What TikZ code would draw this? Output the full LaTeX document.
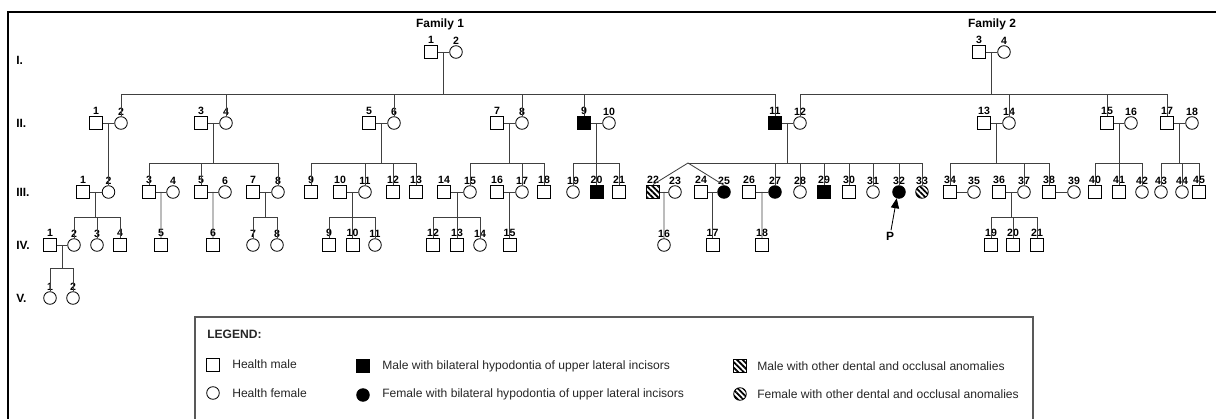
\documentclass[tikz,border=0pt]{standalone}
\usepackage{fontspec}
\setmainfont{Liberation Sans}
\usetikzlibrary{calc, arrows, patterns.meta}
\tikzset{>=triangle 45}
\tikzset{
  person/.style={draw=black, line width=0.6pt, inner sep=0pt, minimum size=3.25mm},
  male/.style={person, rectangle},
  female/.style={person, circle, minimum size=3.15mm},
  aff/.style={fill=black},
  other/.style={pattern={Lines[angle=-45, distance=2.8pt, line width=1.3pt]}},
  num/.style={font=\fontsize{7.5}{7.5}\selectfont\bfseries, inner sep=0.6pt},
  gen/.style={font=\fontsize{8.5}{9}\selectfont\bfseries, anchor=west, inner sep=0pt},
  line/.style={draw=black!75, line width=0.6pt},
  legtext/.style={font=\fontsize{8.6}{9}\selectfont, text=black!85, anchor=west, inner sep=0pt},
}
% parents, y of sibship line, first child, last child, children
\newcommand{\sibship}[5]{%
  \draw[line] (#1) -- (#1 |- 0,#2);
  \draw[line] (#3 |- 0,#2) -- (#4 |- 0,#2);
  \foreach \k in {#5} \draw[line] (\k.north) -- (\k.north |- 0,#2);
}

\begin{document}
\begin{tikzpicture}[x=0.025cm, y=-0.025cm]
  \useasboundingbox (0,0) rectangle (1216,419);
  \draw[line width=1.4pt] (8,419) -- (8,12) -- (1216,12);

  \node[font=\fontsize{8.5}{9}\selectfont\bfseries] (fam1) at (440,24) {Family 1};
  \node[font=\fontsize{8.5}{9}\selectfont\bfseries] (fam2) at (992,24) {Family 2};

  \node[gen] (lI) at (16,60) {I.};
  \node[gen] (lII) at (16,123) {II.};
  \node[gen] (lIII) at (16,192) {III.};
  \node[gen] (lIV) at (16,245) {IV.};
  \node[gen] (lV) at (16,298) {V.};

  % generation I
  \node[male, label={[num]above:1}] (g1-1) at (431,52) {};
  \node[female, label={[num]above:2}] (g1-2) at (456,52) {};
  \node[male, label={[num]above:3}] (g1-3) at (979,52) {};
  \node[female, label={[num]above:4}] (g1-4) at (1004,52) {};

  % generation II
  \foreach \n/\x in {1/96,3/201,5/369,7/497,13/984,15/1107,17/1167}
    \node[male, label={[num]above:\n}] (g2-\n) at (\x,123) {};
  \foreach \n/\x in {2/121,4/226,6/394,8/522,10/609,12/800,14/1009,16/1131,18/1192}
    \node[female, label={[num]above:\n}] (g2-\n) at (\x,123) {};
  \foreach \n/\x in {9/584,11/775}
    \node[male, aff, label={[num]above:\n}] (g2-\n) at (\x,123) {};

  % generation III
  \foreach \n/\x in {1/83,3/149,5/201,7/253,9/311,10/340,12/393,13/416,14/444,16/497,18/544,
      21/619,24/701,26/749,30/849,34/950,36/999,38/1049,40/1095,41/1119,45/1199}
    \node[male, label={[num]above:\n}] (g3-\n) at (\x,192) {};
  \foreach \n/\x in {2/108.5,4/173,6/225,8/278,11/365,15/470,17/522,19/573,23/675,28/800,
      31/873,35/974,37/1024,39/1074,42/1142,43/1161,44/1182}
    \node[female, label={[num]above:\n}] (g3-\n) at (\x,192) {};
  \foreach \n/\x in {20/596.5,29/824}
    \node[male, aff, label={[num]above:\n}] (g3-\n) at (\x,192) {};
  \foreach \n/\x in {25/724,27/775,32/899}
    \node[female, aff, label={[num]above:\n}] (g3-\n) at (\x,192) {};
  \node[male, other, label={[num]above:22}] (g3-22) at (653,192) {};
  \node[female, other, label={[num]above:33}] (g3-33) at (922,192) {};

  % generation IV
  \foreach \n/\x in {1/50,4/120,5/161,6/213,9/329,10/352.5,12/433,13/457,15/509.5,17/712.5,
      18/762,19/991,20/1013,21/1037}
    \node[male, label={[num]above:\n}] (g4-\n) at (\x,245) {};
  \foreach \n/\x in {2/74,3/97,7/253,8/277,11/375,14/480,16/664}
    \node[female, label={[num]above:\n}] (g4-\n) at (\x,245) {};

  % generation V
  \node[female, label={[num]above:1}] (g5-1) at (50,298) {};
  \node[female, label={[num]above:2}] (g5-2) at (73,298) {};

  % couples
  \foreach \a/\b/\c in {g1-1/g1-2/c1-1, g1-3/g1-4/c1-3,
      g2-1/g2-2/c2-1, g2-3/g2-4/c2-3, g2-5/g2-6/c2-5, g2-7/g2-8/c2-7, g2-9/g2-10/c2-9,
      g2-11/g2-12/c2-11, g2-13/g2-14/c2-13, g2-15/g2-16/c2-15, g2-17/g2-18/c2-17,
      g3-1/g3-2/c3-1, g3-3/g3-4/c3-3, g3-5/g3-6/c3-5, g3-7/g3-8/c3-7, g3-10/g3-11/c3-10,
      g3-14/g3-15/c3-14, g3-16/g3-17/c3-16, g3-22/g3-23/c3-22, g3-24/g3-25/c3-24,
      g3-26/g3-27/c3-26, g3-34/g3-35/c3-34, g3-36/g3-37/c3-36, g3-38/g3-39/c3-38,
      g4-1/g4-2/c4-1}
  {
    \draw[line] (\a) -- (\b);
    \coordinate (\c) at ($(\a)!0.5!(\b)$);
  }

  % descent
  \sibship{c1-1}{94}{g2-2}{g2-11}{g2-2,g2-4,g2-6,g2-8,g2-9,g2-11}
  \sibship{c1-3}{94}{g2-12}{g2-17}{g2-12,g2-14,g2-15,g2-17}
  \draw[line] (c2-1) -- (g3-2.north);
  \sibship{c2-3}{163}{g3-3}{g3-8}{g3-3,g3-5,g3-8}
  \sibship{c2-5}{163}{g3-9}{g3-13}{g3-9,g3-11,g3-12,g3-13}
  \sibship{c2-7}{163}{g3-15}{g3-18}{g3-15,g3-17,g3-18}
  \sibship{c2-9}{163}{g3-19}{g3-21}{g3-19,g3-20,g3-21}
  \coordinate (tw) at (688,163);
  \draw[line] (tw) -- (g3-22.north);
  \draw[line] (tw) -- (g3-25.north);
  \sibship{c2-11}{163}{tw}{g3-33}{g3-27,g3-28,g3-29,g3-30,g3-31,g3-32,g3-33}
  \sibship{c2-13}{163}{g3-34}{g3-38}{g3-34,g3-37,g3-38}
  \sibship{c2-15}{163}{g3-40}{g3-42}{g3-40,g3-41,g3-42}
  \sibship{c2-17}{163}{g3-43}{g3-45}{g3-43,g3-44,g3-45}
  \sibship{c3-1}{217}{g4-2}{g4-4}{g4-2,g4-3,g4-4}
  \draw[line] (c3-3) -- (g4-5.north);
  \draw[line] (c3-5) -- (g4-6.north);
  \sibship{c3-7}{217}{g4-7}{g4-8}{g4-7,g4-8}
  \sibship{c3-10}{217}{g4-9}{g4-11}{g4-9,g4-10,g4-11}
  \sibship{c3-14}{217}{g4-12}{g4-14}{g4-12,g4-13,g4-14}
  \draw[line] (c3-16) -- (g4-15.north);
  \draw[line] (c3-22) -- (g4-16.north);
  \draw[line] (c3-24) -- (g4-17.north);
  \draw[line] (c3-26) -- (g4-18.north);
  \sibship{c3-36}{217}{g4-19}{g4-21}{g4-19,g4-20,g4-21}
  \sibship{c4-1}{268}{g5-1}{g5-2}{g5-1,g5-2}

  % proband
  \node[font=\fontsize{8.5}{9}\selectfont\bfseries, inner sep=1pt] (P) at (890,236) {P};
  \draw[line, draw=black, ->] (P) -- (g3-32.250);

  % legend
  \draw[draw=black!65, line width=0.8pt] (195,425) -- (195,317) -- (1033,317) -- (1033,425);
  \node[legtext, font=\fontsize{8.6}{9}\selectfont\bfseries] (leg) at (207,334) {LEGEND:};
  \node[male] (k1) at (213,365) {};
  \node[legtext] (t1) at (232,364) {Health male};
  \node[female] (k2) at (213,393) {};
  \node[legtext] (t2) at (232,393) {Health female};
  \node[male, aff] (k3) at (363,366) {};
  \node[legtext] (t3) at (382,366) {Male with bilateral hypodontia of upper lateral incisors};
  \node[female, aff] (k4) at (363,395) {};
  \node[legtext] (t4) at (382,394) {Female with bilateral hypodontia of upper lateral incisors};
  \node[male, other] (k5) at (740,366) {};
  \node[legtext] (t5) at (757,366) {Male with other dental and occlusal anomalies};
  \node[female, other] (k6) at (740,394) {};
  \node[legtext] (t6) at (757,394) {Female with other dental and occlusal anomalies};
\end{tikzpicture}
\end{document}
